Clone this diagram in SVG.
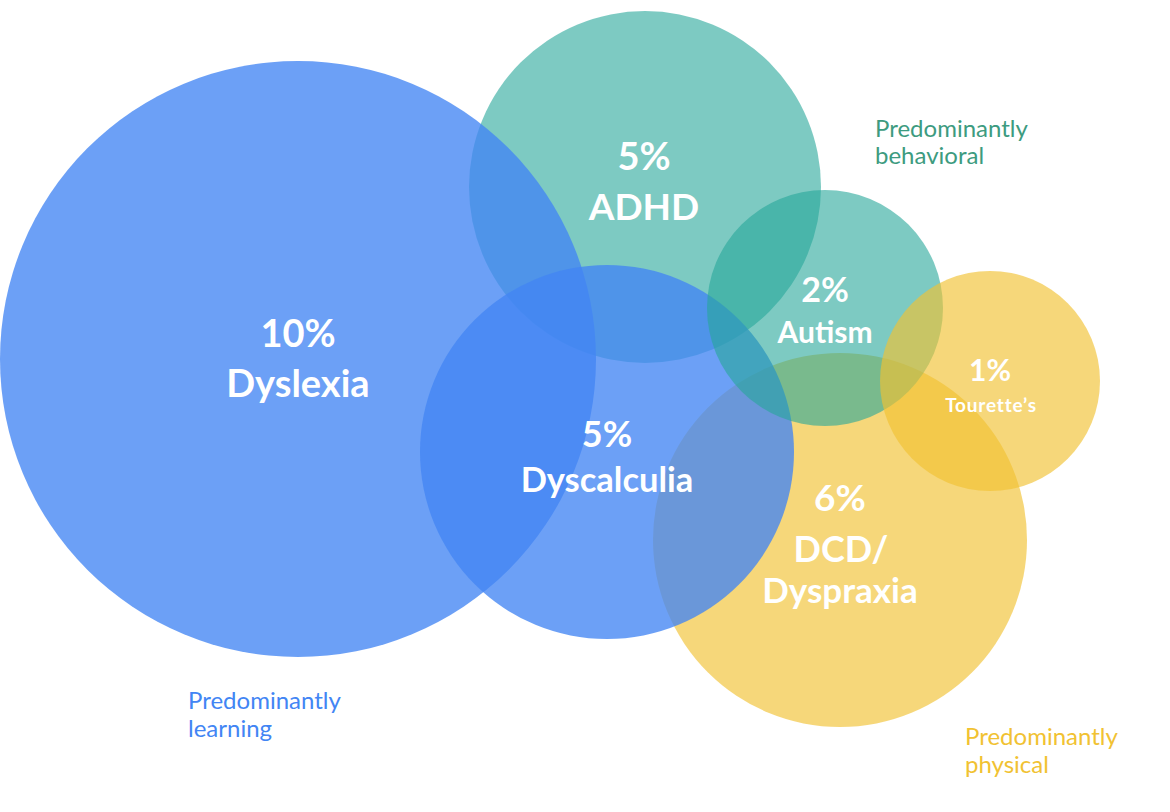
<svg xmlns="http://www.w3.org/2000/svg" width="1170" height="812" viewBox="0 0 1170 812">
<style>
.blue{fill:#4285F4;fill-opacity:0.78}
.teal{fill:#26A69A;fill-opacity:0.6}
.yel{fill:#F1C232;fill-opacity:0.65}
.lbl{font-family:Lato,"Open Sans","Liberation Sans",sans-serif;font-weight:bold;fill:#fff;text-anchor:middle}
.cat{font-family:Lato,"Open Sans","Liberation Sans",sans-serif;font-size:24px}
</style>
<rect width="1170" height="812" fill="#fff"/>
<g id="dcd"><circle class="yel" cx="840" cy="540" r="187"/></g>
<g id="adhd"><circle class="teal" cx="645" cy="187" r="176"/></g>
<g id="dyslexia"><circle class="blue" cx="298" cy="359" r="298"/></g>
<g id="dyscalculia"><circle class="blue" cx="607" cy="452" r="187"/></g>
<g id="autism"><circle class="teal" cx="825" cy="308" r="118"/></g>
<g id="tourettes"><circle class="yel" cx="990" cy="381" r="110"/></g>
<g id="labels">
<text class="lbl" x="298" y="347" font-size="38">10%</text>
<text class="lbl" x="298" y="397" font-size="38">Dyslexia</text>
<text class="lbl" x="644" y="170" font-size="38">5%</text>
<text class="lbl" x="644" y="220" font-size="37">ADHD</text>
<text class="lbl" x="825" y="302" font-size="34">2%</text>
<text class="lbl" x="825" y="343" font-size="30">Autism</text>
<text class="lbl" x="990" y="381" font-size="30">1%</text>
<text class="lbl" x="991" y="412" font-size="19" letter-spacing="0.8">Tourette’s</text>
<text class="lbl" x="607" y="447" font-size="36">5%</text>
<text class="lbl" x="607" y="492" font-size="34.5">Dyscalculia</text>
<text class="lbl" x="840" y="511" font-size="37">6%</text>
<text class="lbl" x="841" y="562" font-size="36">DCD/</text>
<text class="lbl" x="840" y="603" font-size="35">Dyspraxia</text>
</g>
<g id="categories">
<text class="cat" fill="#4285F4" x="188" y="709">Predominantly</text>
<text class="cat" fill="#4285F4" x="188" y="737">learning</text>
<text class="cat" fill="#3D9B80" x="875" y="137">Predominantly</text>
<text class="cat" fill="#3D9B80" x="875" y="164">behavioral</text>
<text class="cat" fill="#F1C232" x="965" y="745">Predominantly</text>
<text class="cat" fill="#F1C232" x="965" y="773">physical</text>
</g>
<g id="connectors"></g>
</svg>
